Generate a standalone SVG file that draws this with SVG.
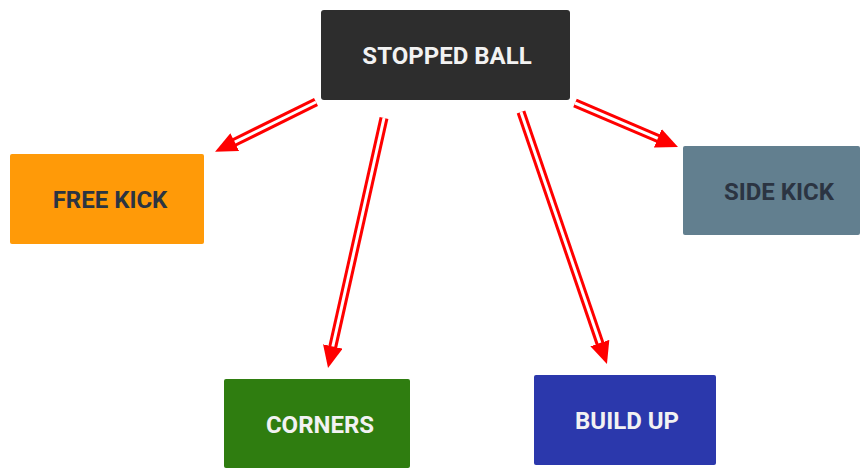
<svg xmlns="http://www.w3.org/2000/svg" width="860" height="468" viewBox="0 0 860 468">
<defs>
<style>
.box{stroke:none}
.lbl{font-family:Roboto,"Liberation Sans",sans-serif;font-weight:700;font-size:24px;text-anchor:middle}
.light{fill:#f2f2f2}
.dark{fill:#2b3442}
.red{fill:none;stroke:#ff0000;stroke-width:9;marker-end:url(#ah)}
.gap{fill:none;stroke:#ffffff;stroke-width:3}
</style>
<marker id="ah" markerUnits="userSpaceOnUse" viewBox="0 0 22 20" refX="2" refY="10" markerWidth="22" markerHeight="20" orient="auto">
<path d="M0,0 L22,10 L0,20 Z" fill="#ff0000"/>
</marker>
</defs>
<rect width="860" height="468" fill="#ffffff"/>
<g id="connectors">
<path class="red" d="M316,102 L233,143"/>
<path class="gap" d="M316,102 L234.8,142.1"/>
<path class="red" d="M384,118 L332.4,348.5"/>
<path class="gap" d="M384,118 L332.8,346.5"/>
<path class="red" d="M521,112 L600.5,345"/>
<path class="gap" d="M521,112 L599.9,343.1"/>
<path class="red" d="M575,103 L659.6,139.1"/>
<path class="gap" d="M575,103 L657.8,138.3"/>
</g>
<g id="stopped-ball">
<rect class="box" x="321" y="10" width="249" height="90" rx="3" fill="#2d2d2d"/>
<text class="lbl light" x="447" y="64">STOPPED BALL</text>
</g>
<g id="free-kick">
<rect class="box" x="10" y="154" width="194" height="90" rx="2" fill="#ff9a08"/>
<text class="lbl dark" x="110" y="208">FREE KICK</text>
</g>
<g id="side-kick">
<rect class="box" x="683" y="146" width="177" height="89" rx="2" fill="#627f8f"/>
<text class="lbl dark" x="779" y="200">SIDE KICK</text>
</g>
<g id="corners">
<rect class="box" x="224" y="379" width="186" height="89" rx="2" fill="#2f7d10"/>
<text class="lbl light" x="320" y="433">CORNERS</text>
</g>
<g id="build-up">
<rect class="box" x="534" y="375" width="182" height="90" rx="2" fill="#2b38ac"/>
<text class="lbl light" x="627" y="429">BUILD UP</text>
</g>
</svg>
